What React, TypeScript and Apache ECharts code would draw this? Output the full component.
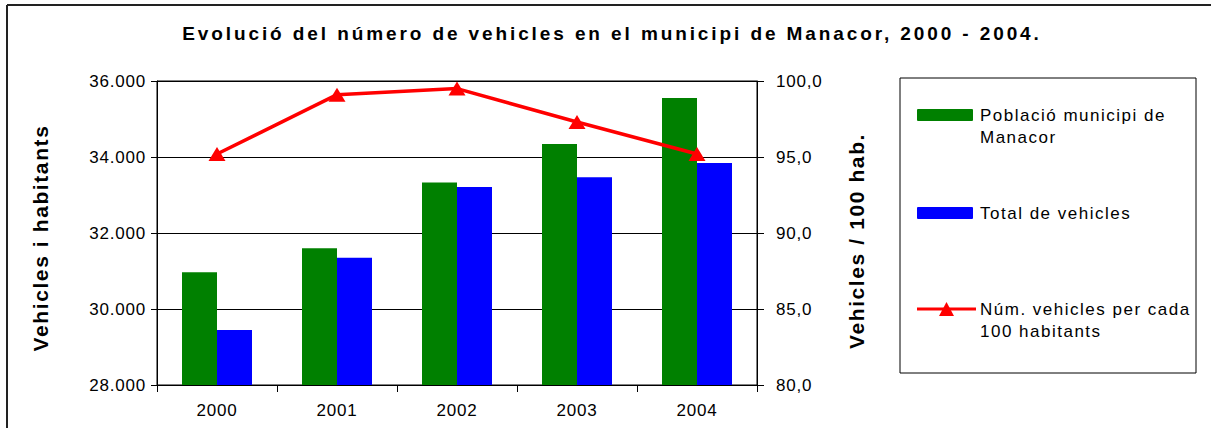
import React, { useEffect, useRef } from "react";
import * as echarts from "echarts";

const years = ["2000", "2001", "2002", "2003", "2004"];
const poblacio = [30970, 31600, 33330, 34340, 35550];
const vehicles = [29450, 31350, 33210, 33470, 33840];
const perCent = [95.2, 99.1, 99.5, 97.3, 95.2];

const titleText = "Evolució del número de vehicles en el municipi de Manacor, 2000 - 2004.";
const leftAxisName = "Vehicles i habitants";
const rightAxisName = "Vehicles / 100 hab.";
const legendNames = ["Població municipi de\nManacor", "Total de vehicles", "Núm. vehicles per cada\n100 habitants"];

const FONT = "'Liberation Sans', Arial, sans-serif";
const GREEN = "#008000";
const BLUE = "#0000FF";
const RED = "#FF0000";

export default function App() {
  const ref = useRef<HTMLDivElement>(null);

  useEffect(() => {
    if (!ref.current) return;
    const chart = echarts.init(ref.current, null, { renderer: "svg" });

    const option: any = {
      animation: false,
      backgroundColor: "#fff",
      textStyle: { fontFamily: FONT },
      grid: {
        left: 157,
        top: 81,
        width: 600,
        height: 304,
        show: true,
        borderColor: "#000",
        borderWidth: 1,
        containLabel: false,
      },
      xAxis: {
        type: "category",
        data: years,
        boundaryGap: true,
        axisLine: { lineStyle: { color: "#000", width: 1 } },
        axisTick: { show: true, length: 7, lineStyle: { color: "#000" } },
        axisLabel: { color: "#000", fontSize: 17, fontFamily: FONT, margin: 17 },
      },
      yAxis: [
        {
          type: "value",
          min: 28000,
          max: 36000,
          interval: 2000,
          axisLine: { show: true, lineStyle: { color: "#000" } },
          axisTick: { show: true, length: 6, lineStyle: { color: "#000" } },
          splitLine: { show: true, lineStyle: { color: "#000", width: 1 } },
          axisLabel: {
            color: "#000",
            fontSize: 17,
            fontFamily: FONT,
            margin: 11,
            formatter: (v: number) => {
              const s = String(Math.round(v));
              return s.replace(/\B(?=(\d{3})+(?!\d))/g, ".");
            },
          },
        },
        {
          type: "value",
          min: 80,
          max: 100,
          interval: 5,
          position: "right",
          axisLine: { show: true, lineStyle: { color: "#000" } },
          axisTick: { show: true, length: 7, lineStyle: { color: "#000" } },
          splitLine: { show: false },
          axisLabel: {
            color: "#000",
            fontSize: 17,
            fontFamily: FONT,
            margin: 19,
            formatter: (v: number) => v.toFixed(1).replace(".", ","),
          },
        },
      ],
      series: [
        {
          name: "Població municipi de Manacor",
          type: "bar",
          data: poblacio,
          barWidth: 35,
          barGap: "0%",
          itemStyle: { color: GREEN },
        },
        {
          name: "Total de vehicles",
          type: "bar",
          data: vehicles,
          barWidth: 35,
          barGap: "0%",
          itemStyle: { color: BLUE },
        },
        {
          name: "Núm. vehicles per cada 100 habitants",
          type: "line",
          yAxisIndex: 1,
          data: perCent,
          symbol: "triangle",
          symbolSize: [17, 14],
          lineStyle: { color: RED, width: 3.5 },
          itemStyle: { color: RED },
          z: 5,
        },
      ],
      graphic: [
        { type: "line", shape: { x1: 7, y1: 5, x2: 1211, y2: 5 }, style: { stroke: "#222", lineWidth: 2 } },
        { type: "line", shape: { x1: 7, y1: 5, x2: 7, y2: 428 }, style: { stroke: "#222", lineWidth: 2 } },
        {
          type: "text",
          x: 612,
          y: 33,
          style: {
            text: titleText,
            font: `bold 19px ${FONT}`,
            fill: "#000",
            align: "center",
            verticalAlign: "middle",
          },
        },
        {
          type: "text",
          x: 40,
          y: 238,
          rotation: Math.PI / 2,
          style: {
            text: leftAxisName,
            font: `bold 21px ${FONT}`,
            fill: "#000",
            align: "center",
            verticalAlign: "middle",
          },
        },
        {
          type: "text",
          x: 856,
          y: 241,
          rotation: Math.PI / 2,
          style: {
            text: rightAxisName,
            font: `bold 21px ${FONT}`,
            fill: "#000",
            align: "center",
            verticalAlign: "middle",
          },
        },
        {
          type: "rect",
          shape: { x: 900, y: 78, width: 296, height: 295 },
          style: { fill: "#fff", stroke: "#000", lineWidth: 1 },
        },
        { type: "rect", shape: { x: 917, y: 109, width: 56, height: 12, r: 1 }, style: { fill: GREEN } },
        { type: "rect", shape: { x: 917, y: 207, width: 56, height: 12, r: 1 }, style: { fill: BLUE } },
        { type: "line", shape: { x1: 917, y1: 309, x2: 976, y2: 309 }, style: { stroke: RED, lineWidth: 3 } },
        {
          type: "polygon",
          shape: { points: [[946.5, 302], [954, 316], [939, 316]] },
          style: { fill: RED },
        },
        {
          type: "text",
          x: 980,
          y: 104,
          style: {
            text: legendNames[0],
            font: `17px ${FONT}`,
            lineHeight: 22,
            fill: "#000",
            align: "left",
            verticalAlign: "top",
          },
        },
        {
          type: "text",
          x: 980,
          y: 202,
          style: {
            text: legendNames[1],
            font: `17px ${FONT}`,
            lineHeight: 22,
            fill: "#000",
            align: "left",
            verticalAlign: "top",
          },
        },
        {
          type: "text",
          x: 980,
          y: 298,
          style: {
            text: legendNames[2],
            font: `17px ${FONT}`,
            lineHeight: 22,
            fill: "#000",
            align: "left",
            verticalAlign: "top",
          },
        },
      ],
    };

    chart.setOption(option);

    const applySpacing = () => {
      const root = ref.current;
      if (!root) return;
      root.querySelectorAll("text").forEach((t) => {
        const c = t.textContent || "";
        let sp = "0.8px";
        if (c.startsWith("Evolució")) sp = "2.9px";
        else if (c === leftAxisName || c === rightAxisName) sp = "1.6px";
        else if (/[a-zà-ú]/i.test(c)) sp = "1.5px";
        t.setAttribute("letter-spacing", sp);
      });
    };
    applySpacing();
    chart.on("finished", applySpacing);

    return () => {
      chart.dispose();
    };
  }, []);

  return (
    <div
      ref={ref}
      style={{ position: "fixed", left: 0, top: 0, width: 1211, height: 428, background: "#fff" }}
    />
  );
}
